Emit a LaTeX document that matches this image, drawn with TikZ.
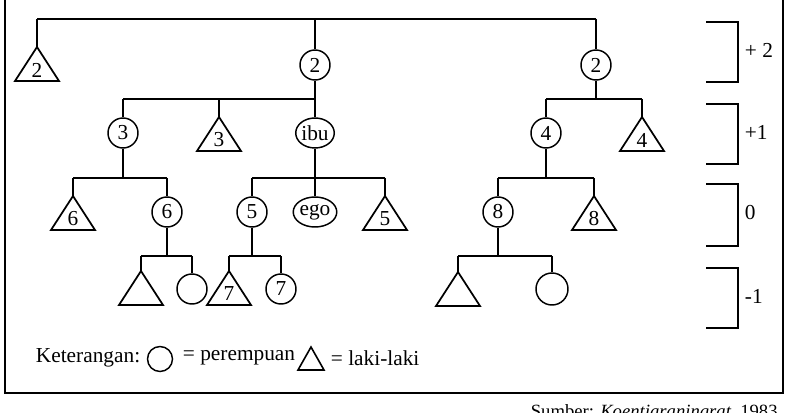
\documentclass[tikz,border=0pt]{standalone}
\usepackage{fontspec}
\setmainfont{Liberation Serif}
\usetikzlibrary{shapes.geometric}
\begin{document}
\begin{tikzpicture}[x=0.75pt,y=-0.75pt,line width=1.4pt,
  fem/.style={draw,circle,minimum size=30*0.75pt,inner sep=0pt,line width=1.1pt},
  femw/.style={draw,ellipse,minimum width=38*0.75pt,minimum height=30*0.75pt,inner sep=0pt,line width=1.1pt},
  lbl/.style={inner sep=0pt},
  every node/.style={font=\fontsize{16}{19}\selectfont}]
\useasboundingbox (0,0) rectangle (788,413);
\newcommand\tri[4]{\coordinate (#1) at (#2,#3);
  \draw[line width=1.3pt,line join=miter] (#1) -- ++(22,34) -- ++(-44,0) -- cycle;
  \node[lbl] at (#2,#3+23) {#4};}
% frame
\draw[line width=1.5pt] (5,-5) -- (5,393) -- (783,393) -- (783,-5);
\node[anchor=base east,font=\fontsize{14}{16}\selectfont] (src) at (783,417) {Sumber: \textit{Koentjaraningrat}, 1983};
% generation +2
\coordinate (t1) at (37,19); \coordinate (t2) at (596,19); \coordinate (tm) at (315,19);
\tri{a1}{37}{47}{2}
\node[fem] (a2) at (315,65) {2};
\node[fem] (a3) at (596,65) {2};
\draw (t1) -- (t2); \draw (t1) -- (a1); \draw (tm) -- (a2); \draw (t2) -- (a3);
% +1
\coordinate (b0) at (315,99); \coordinate (bl) at (123,99); \coordinate (bm) at (219,99);
\node[fem] (b1) at (123,133) {3};
\tri{b2}{219}{117}{3}
\node[femw] (ibu) at (315,133) {ibu};
\draw (a2) -- (b0); \draw (bl) -- (b0); \draw (bl) -- (b1); \draw (bm) -- (b2); \draw (b0) -- (ibu);
\coordinate (c0) at (596,99); \coordinate (cl) at (546,99); \coordinate (cr) at (642,99);
\node[fem] (c1) at (546,133) {4};
\tri{c2}{642}{117}{4}
\draw (a3) -- (c0); \draw (cl) -- (cr); \draw (cl) -- (c1); \draw (cr) -- (c2);
% 0
\coordinate (d0) at (123,178); \coordinate (dl) at (73,178); \coordinate (dr) at (167,178);
\tri{d1}{73}{196}{6}
\node[fem] (d2) at (167,212) {6};
\draw (b1) -- (d0); \draw (dl) -- (dr); \draw (dl) -- (d1); \draw (dr) -- (d2);
\coordinate (e0) at (315,178); \coordinate (el) at (252,178); \coordinate (er) at (385,178);
\node[fem] (e1) at (252,212) {5};
\node[femw] (ego) at (315,212) {ego};
\tri{e3}{385}{196}{5}
\draw (ibu) -- (ego); \draw (el) -- (er); \draw (el) -- (e1); \draw (er) -- (e3);
\coordinate (f0) at (546,178); \coordinate (fl) at (498,178); \coordinate (fr) at (594,178);
\node[fem] (f1) at (498,212) {8};
\tri{f2}{594}{196}{8}
\draw (c1) -- (f0); \draw (fl) -- (fr); \draw (fl) -- (f1); \draw (fr) -- (f2);
% -1
\coordinate (g0) at (167,256); \coordinate (gl) at (141,256); \coordinate (gr) at (192,256);
\tri{g1}{141}{271}{}
\node[fem] (g2) at (192,289) {};
\draw (d2) -- (g0); \draw (gl) -- (gr); \draw (gl) -- (g1); \draw (gr) -- (g2);
\coordinate (h0) at (252,256); \coordinate (hl) at (229,256); \coordinate (hr) at (281,256);
\tri{h1}{229}{271}{7}
\node[fem] (h2) at (281,289) {7};
\draw (e1) -- (h0); \draw (hl) -- (hr); \draw (hl) -- (h1); \draw (hr) -- (h2);
\coordinate (k0) at (498,256); \coordinate (kl) at (458,256); \coordinate (kr) at (552,256);
\tri{k1}{458}{272}{}
\node[fem,minimum size=32*0.75pt] (k2) at (552,289) {};
\draw (f1) -- (k0); \draw (kl) -- (kr); \draw (kl) -- (k1); \draw (kr) -- (k2);
% brackets
\foreach \ya/\yb/\t [count=\i] in {22/82/{+ 2},104/164/{+1},184/246/{0},268/328/{-1}}{
  \coordinate (br\i a) at (706,\ya); \coordinate (br\i b) at (706,\yb);
  \draw (br\i a) -- ++(32,0) |- (br\i b);
  \node[lbl,anchor=west] (bl\i) at (744,{(\ya+\yb)/2-2}) {\t};}
% legend
\node[lbl,anchor=west] (k) at (35,358) {Keterangan:};
\node[fem,minimum size=25*0.75pt] (lc) at (160,359) {};
\node[lbl,anchor=west] (lp) at (182,358) {= perempuan};
\coordinate (lt) at (311,347);
\draw[line width=1.2pt,line join=miter] (lt) -- ++(13,23) -- ++(-26,0) -- cycle;
\node[lbl,anchor=west] (ll) at (330,358) {= laki-laki};
\end{tikzpicture}
\end{document}
